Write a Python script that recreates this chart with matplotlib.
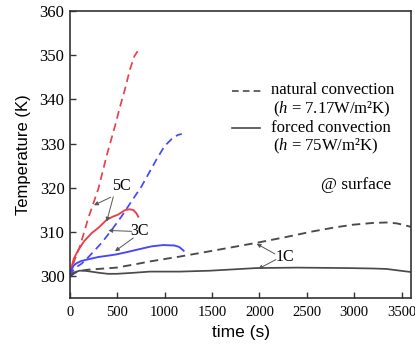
import matplotlib
matplotlib.use("Agg")
import matplotlib.pyplot as plt
from matplotlib.lines import Line2D

plt.rcParams['mathtext.fontset'] = 'custom'
plt.rcParams['mathtext.rm'] = 'Liberation Serif'
plt.rcParams['mathtext.it'] = 'Liberation Serif:italic'

# ---- data ----
t_5c_nat = [0, 25, 50, 105, 193, 299, 387, 475, 527, 580, 633, 680, 714]
T_5c_nat = [300, 302.2, 303.8, 306.8, 313.2, 319.8, 327.3, 334, 338.3, 342.3, 346.8, 349.8, 350.9]

t_3c_nat = [0, 30, 60, 123, 200, 334, 450, 545, 650, 756, 850, 914, 1000, 1080, 1140, 1180]
T_3c_nat = [300, 301.3, 302, 302.9, 304.5, 307.6, 310.8, 313.6, 317, 320.4, 324, 326.5, 329.5, 331.2, 332, 332.2]

t_5c_frc = [0, 15, 40, 88, 150, 229, 300, 387, 450, 510, 580, 630, 670, 700, 721]
T_5c_frc = [300, 302, 304, 306, 308, 309.8, 311, 312.8, 313.5, 314, 315, 315.2, 315, 314.3, 313.5]

t_3c_frc = [0, 15, 40, 70, 120, 176, 300, 400, 493, 600, 738, 860, 984, 1100, 1150, 1180, 1200]
T_3c_frc = [300, 301.5, 302.5, 303, 303.5, 303.8, 304.4, 304.7, 305, 305.5, 306.2, 306.8, 307.1, 307, 306.7, 306.2, 305.8]

t_1c_nat = [0, 50, 100, 176, 300, 493, 700, 844, 1160, 1477, 1969, 2300, 2566, 2800, 2989, 3200, 3341, 3450, 3530, 3600]
T_1c_nat = [300, 300.8, 301.2, 301.5, 301.7, 302, 302.8, 303.4, 304.5, 305.7, 307.6, 309, 310.2, 311.1, 311.7, 312.1, 312.2, 312.0, 311.6, 311.2]

t_1c_frc = [0, 40, 100, 150, 220, 316, 400, 493, 650, 844, 1160, 1477, 1969, 2400, 2918, 3200, 3341, 3450, 3600]
T_1c_frc = [300, 300.9, 301.3, 301.3, 301.1, 300.8, 300.6, 300.6, 300.8, 301.1, 301.1, 301.3, 301.9, 302, 301.9, 301.8, 301.7, 301.4, 301.0]

x_ticks = [0, 500, 1000, 1500, 2000, 2500, 3000, 3500]
y_ticks = [300, 310, 320, 330, 340, 350, 360]

RED = '#e8404a'
BLUE = '#4646ff'
GRAY = '#4a4a4a'

fig = plt.figure(figsize=(4.15, 3.54), dpi=100)
ax = fig.add_axes([70/415, 1-297.7/354, 341/415, 286.7/354])

dash = (0, (4.5, 2.8))
ax.plot(t_5c_nat, T_5c_nat, color=RED, lw=1.25, ls=dash)
ax.plot(t_3c_nat, T_3c_nat, color=BLUE, lw=1.25, ls=dash)
ax.plot(t_1c_nat, T_1c_nat, color=GRAY, lw=1.35, ls=dash)
ax.plot(t_5c_frc, T_5c_frc, color=RED, lw=1.35)
ax.plot(t_3c_frc, T_3c_frc, color=BLUE, lw=1.35)
ax.plot(t_1c_frc, T_1c_frc, color=GRAY, lw=1.25)

ax.set_xlim(0, 3600)
ax.set_ylim(295.2, 360)
ax.set_xticks(x_ticks)
ax.set_yticks(y_ticks)
ax.tick_params(direction='in', length=4, width=1, color='#333333',
               top=False, right=False)
for lab in ax.get_xticklabels():
    lab.set_fontfamily('Liberation Serif')
    lab.set_fontsize(10.5)
for lab in ax.get_yticklabels():
    lab.set_fontfamily('Liberation Serif')
    lab.set_fontsize(12)
ax.tick_params(axis='x', pad=6)
ax.tick_params(axis='y', pad=4)
for s in ax.spines.values():
    s.set_linewidth(1.2)
    s.set_color('#333333')

ax.set_xlabel('time (s)', family='Liberation Sans', fontsize=12.5, labelpad=4)
ax.set_ylabel('Temperature (K)', family='Liberation Sans', fontsize=12, labelpad=6)

# annotations
arrow = dict(arrowstyle='-|>', lw=0.7, color='#555555', mutation_scale=6,
             shrinkA=0, shrinkB=0)
ax.text(545, 320.4, '5C', family='Liberation Serif', fontsize=11.5, ha='center', va='center')
ax.annotate('', xy=(253, 316.1), xytext=(429, 317.9), arrowprops=arrow)
ax.annotate('', xy=(387, 312.4), xytext=(457, 318.0), arrowprops=arrow)
ax.text(738, 310.2, '3C', family='Liberation Serif', fontsize=11.5, ha='center', va='center')
ax.annotate('', xy=(404, 310.4), xytext=(651, 310.2), arrowprops=arrow)
ax.annotate('', xy=(475, 305.7), xytext=(668, 308.7), arrowprops=arrow)
ax.text(2268, 304.5, '1C', family='Liberation Serif', fontsize=11.5, ha='center', va='center')
ax.annotate('', xy=(1970, 307.4), xytext=(2163, 305.1), arrowprops=arrow)
ax.annotate('', xy=(1987, 301.7), xytext=(2173, 303.8), arrowprops=arrow)

ax.text(3392, 320.7, '@ surface', family='Liberation Serif', fontsize=12.5,
        ha='right', va='center')

# legend (manual, axes coordinates)
ax.add_line(Line2D([0.474, 0.570], [0.722, 0.722], transform=ax.transAxes,
                   color=GRAY, lw=1.2, ls=(0, (4, 2.5))))
ax.add_line(Line2D([0.474, 0.557], [0.593, 0.593], transform=ax.transAxes,
                   color=GRAY, lw=1.2))
lk = dict(transform=ax.transAxes, family='Liberation Serif', fontsize=12,
          ha='left', va='center')
ax.text(0.588, 0.7245, 'natural convection', **lk)
ax.text(0.596, 0.658, '($h$ = 7.17W/m²K)', **lk)
ax.text(0.588, 0.593, 'forced convection', **lk)
ax.text(0.596, 0.527, '($h$ = 75W/m²K)', **lk)

fig.savefig('out.png', dpi=100)
